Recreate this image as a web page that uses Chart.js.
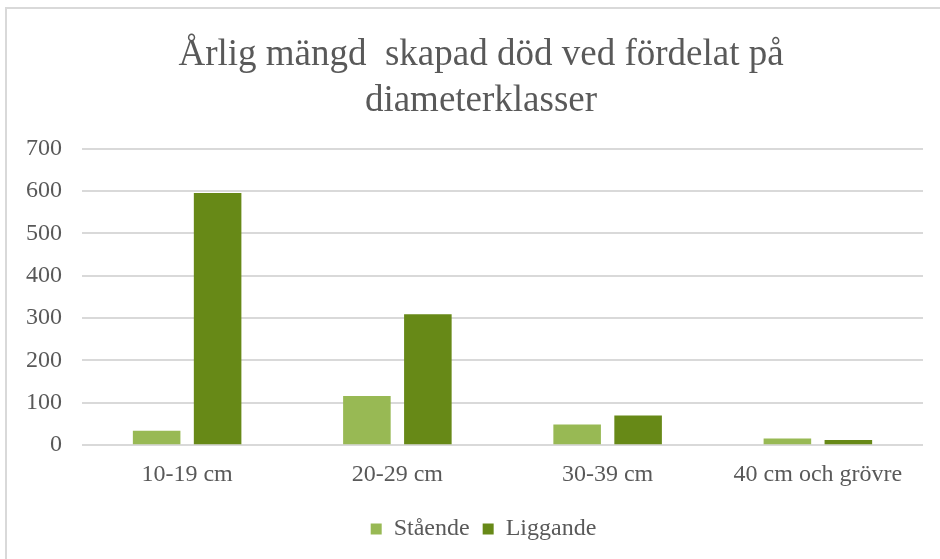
<!DOCTYPE html>
<html>
<head>
<meta charset="utf-8">
<script src="https://cdn.jsdelivr.net/npm/chart.js@4"></script>
<style>
  html, body { margin: 0; padding: 0; background: #ffffff; }
  #wrap { width: 940px; height: 559px; position: relative; }
</style>
</head>
<body>
<div id="wrap"><canvas id="c" width="940" height="559"></canvas></div>
<script>
const categories = ["10-19 cm", "20-29 cm", "30-39 cm", "40 cm och grövre"];
const staende = [34, 116, 49, 16];
const liggande = [595, 309, 70, 12];
const seriesNames = ["Stående", "Liggande"];
const titleLines = ["Årlig mängd  skapad död ved fördelat på", "diameterklasser"];

const frame = {
  id: 'frame',
  beforeDraw(chart) {
    const ctx = chart.ctx;
    ctx.save();
    ctx.fillStyle = '#ffffff';
    ctx.fillRect(0, 0, chart.width, chart.height);
    ctx.strokeStyle = '#d9d9d9';
    ctx.lineWidth = 2;
    ctx.beginPath();
    ctx.moveTo(6, chart.height);
    ctx.lineTo(6, 8);
    ctx.lineTo(chart.width, 8);
    ctx.stroke();
    ctx.restore();
  },
  afterLayout(chart) {
    if (chart.titleBlock) { chart.titleBlock.left += 19; }
    if (chart.legend) { chart.legend.left += 24; }
  }
};

const serif = "'Liberation Serif', 'Times New Roman', serif";

new Chart(document.getElementById('c'), {
  type: 'bar',
  data: {
    labels: categories,
    datasets: [
      { label: seriesNames[0], data: staende, backgroundColor: '#98b954', borderWidth: 0 },
      { label: seriesNames[1], data: liggande, backgroundColor: '#678917', borderWidth: 0 }
    ]
  },
  options: {
    responsive: false,
    animation: false,
    layout: { padding: { left: 20, right: 17, top: 10, bottom: 8 } },
    datasets: { bar: { categoryPercentage: 0.58, barPercentage: 0.78 } },
    plugins: {
      title: {
        display: true,
        text: titleLines,
        color: '#595959',
        font: { family: serif, size: 37, weight: 'normal', lineHeight: 1.25 },
        padding: { top: 22, bottom: 24 }
      },
      legend: {
        position: 'bottom',
        labels: {
          boxWidth: 11, boxHeight: 11,
          color: '#595959',
          font: { family: serif, size: 24 },
          padding: 13
        }
      },
      tooltip: { enabled: false }
    },
    scales: {
      x: {
        grid: { display: false, drawTicks: false },
        border: { display: false },
        ticks: { color: '#595959', font: { family: serif, size: 24 }, padding: 15, maxRotation: 0 }
      },
      y: {
        min: 0, max: 700,
        afterFit(scale) { scale.width = 62; },
        grid: { color: '#d9d9d9', lineWidth: 2, drawTicks: false },
        border: { display: false },
        ticks: { stepSize: 100, color: '#595959', font: { family: serif, size: 24 }, padding: 20 }
      }
    }
  },
  plugins: [frame]
});
</script>
</body>
</html>
